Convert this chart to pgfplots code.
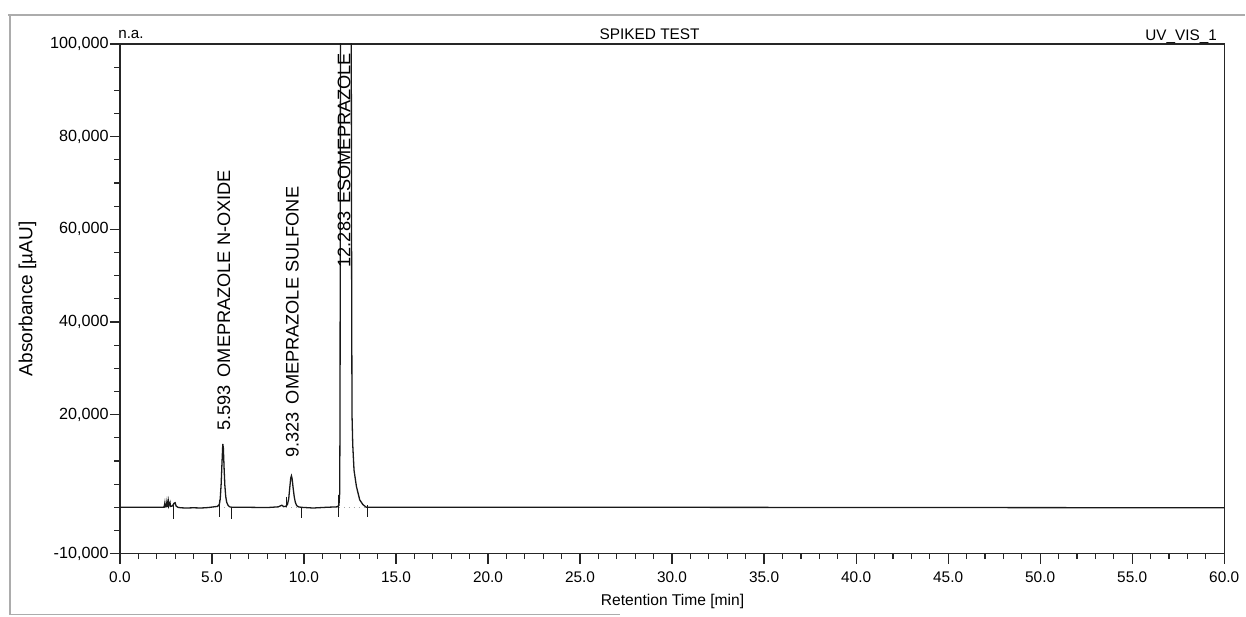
\documentclass[border=0pt]{standalone}
\usepackage{fontspec}
\setmainfont{Liberation Sans}
\usepackage{pgfplots}
\usepackage{pgfplotstable}
\pgfplotsset{compat=1.18}

\pgfplotstableread{
t v
0.00 0
1.00 0
2.00 0
2.38 0
2.42 400
2.44 900
2.46 100
2.52 200
2.55 1100
2.57 200
2.60 300
2.63 1200
2.65 300
2.70 900
2.72 1100
2.75 200
2.85 300
2.95 900
3.00 1000
3.05 300
3.15 0
3.30 -100
3.60 -150
4.00 -100
4.40 -150
4.80 -50
5.10 100
5.30 200
5.40 600
5.45 1800
5.50 5000
5.55 10000
5.59 13700
5.62 12800
5.66 8500
5.70 4800
5.75 2300
5.80 1100
5.88 400
5.96 100
6.10 0
7.00 0
8.00 -50
8.60 100
8.80 450
8.90 150
9.00 200
9.10 600
9.17 1800
9.23 4300
9.28 6300
9.32 6800
9.36 6100
9.41 4200
9.47 2300
9.53 1100
9.60 400
9.70 100
9.85 0
10.50 -150
11.20 0
11.80 100
11.90 400
11.94 3000
11.96 20000
11.98 90000
12.00 300000
12.28 1200000
12.55 200000
12.57 100000
12.59 50000
12.61 20000
12.65 13500
12.72 8000
12.85 4500
13.03 1600
13.20 600
13.39 0
14.00 0
30.00 0
45.00 -50
60.00 -100
}\chrom

\begin{document}
\fontsize{8}{9.6}\selectfont
\begin{tikzpicture}
\begin{axis}[
  scale only axis, width=552.5pt, height=255pt,
  xmin=0, xmax=60, ymin=-10000, ymax=100000,
  axis line style={line width=0.7pt, black!85},
  xtick={0,5,...,60},
  xticklabels={0.0,5.0,10.0,15.0,20.0,25.0,30.0,35.0,40.0,45.0,50.0,55.0,60.0},
  minor x tick num=4,
  ytick={-10000,20000,40000,60000,80000,100000},
  yticklabels={{-10,000},{20,000},{40,000},{60,000},{80,000},{100,000}},
  minor ytick={-5000,0,5000,10000,15000,25000,30000,35000,45000,50000,55000,65000,70000,75000,85000,90000,95000},
  tick align=outside,
  xtick pos=lower, ytick pos=left,
  major tick length=5pt, minor tick length=2.75pt,
  tick style={black!85, line width=0.6pt},
  xticklabel style={font=\fontsize{7.7}{9}\selectfont, yshift=-1pt},
  yticklabel style={font=\fontsize{8.1}{9}\selectfont, inner sep=0pt, xshift=-0.5pt},
  scaled y ticks=false, scaled x ticks=false,
  clip mode=individual,
]
\addplot[black!90, line width=0.65pt] table[x=t,y=v] {\chrom};
% integration baselines
\addplot[gray!70, dotted, line width=0.5pt] coordinates {(5.39,0) (6.06,0)};
\addplot[gray!70, dotted, line width=0.5pt] coordinates {(9.04,0) (9.86,0)};
\addplot[gray!70, dotted, line width=0.5pt] coordinates {(11.89,0) (13.44,0)};
% integration markers
\addplot[black!90, line width=0.55pt] coordinates {(2.89,1000) (2.89,-2500)};
\addplot[black!90, line width=0.55pt] coordinates {(5.39,1600) (5.39,-2000)};
\addplot[black!90, line width=0.55pt] coordinates {(6.06,0) (6.06,-2500)};
\addplot[black!90, line width=0.55pt] coordinates {(9.04,2300) (9.04,0)};
\addplot[black!90, line width=0.55pt] coordinates {(9.86,0) (9.86,-2200)};
\addplot[black!90, line width=0.55pt] coordinates {(11.89,2700) (11.89,-2100)};
\addplot[black!90, line width=0.55pt] coordinates {(13.44,500) (13.44,-2100)};
% peak labels
\node[rotate=90, anchor=west, inner sep=0pt, font=\fontsize{9.1}{10}\selectfont] at (axis cs:5.65,16400) {5.593\hspace{0.45em}OMEPRAZOLE N-OXIDE};
\node[rotate=90, anchor=west, inner sep=0pt, font=\fontsize{9.1}{10}\selectfont] at (axis cs:9.37,10600) {9.323\hspace{0.45em}OMEPRAZOLE SULFONE};
\node[rotate=90, anchor=west, inner sep=0pt, font=\fontsize{9.1}{10}\selectfont] at (axis cs:12.18,51700) {12.283\hspace{0.45em}ESOMEPRAZOLE};
\end{axis}
% header texts
\node[anchor=base west, inner sep=0pt, font=\fontsize{7.6}{9}\selectfont] at ([xshift=-1pt,yshift=257.5pt]current axis.south west) {n.a.};
\node[anchor=base, inner sep=0pt, font=\fontsize{7.7}{9}\selectfont] at ([xshift=265pt,yshift=257pt]current axis.south west) {SPIKED TEST};
\node[anchor=base east, inner sep=0pt, font=\fontsize{7.65}{9}\selectfont] at ([xshift=549pt,yshift=256.5pt]current axis.south west) {UV\_VIS\_1};
% axis labels
\node[rotate=90, anchor=center, inner sep=0pt, font=\fontsize{9.5}{11}\selectfont] at ([xshift=-46.25pt,yshift=127.5pt]current axis.south west) {Absorbance [µAU]};
\node[anchor=base, inner sep=0pt, font=\fontsize{7.8}{9}\selectfont] at ([xshift=276.5pt,yshift=-26pt]current axis.south west) {Retention Time [min]};
% outer frame
\draw[gray!65, line width=0.8pt] ([xshift=-56pt,yshift=269.5pt]current axis.south west) -- ([xshift=563pt,yshift=269.5pt]current axis.south west);
\draw[gray!65, line width=0.8pt] ([xshift=-55pt,yshift=269.5pt]current axis.south west) -- ([xshift=-55pt,yshift=-30.5pt]current axis.south west);
\draw[gray!65, line width=0.8pt] ([xshift=-55pt,yshift=-30.5pt]current axis.south west) -- ([xshift=250pt,yshift=-30.5pt]current axis.south west);
\path[use as bounding box] ([xshift=-60pt,yshift=-31.5pt]current axis.south west) rectangle ([xshift=563pt,yshift=277pt]current axis.south west);
\end{tikzpicture}
\end{document}
